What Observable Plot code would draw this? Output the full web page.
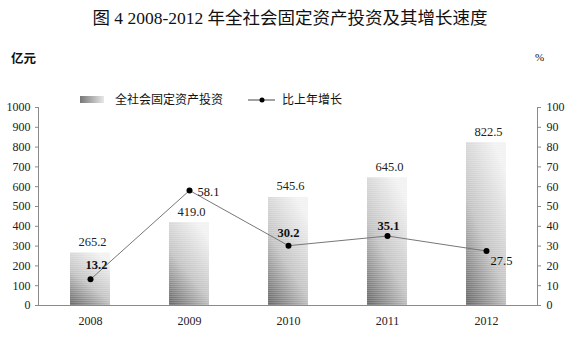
<!DOCTYPE html>
<html><head><meta charset="utf-8">
<script src="https://cdn.jsdelivr.net/npm/d3@7"></script>
<script src="https://cdn.jsdelivr.net/npm/@observablehq/plot@0.6"></script>
<style>body{margin:0;background:#fff}</style>
</head><body><div id="chart"></div>
<script>
const years = ["2008", "2009", "2010", "2011", "2012"];
const investment = [265.2, 419.0, 545.6, 645.0, 822.5];
const growth = [13.2, 58.1, 30.2, 35.1, 27.5];
const leftTicks = [0, 100, 200, 300, 400, 500, 600, 700, 800, 900, 1000];
const titleText = "图 4 2008-2012 年全社会固定资产投资及其增长速度";
const leftUnit = "亿元";
const rightUnit = "%";
const seriesNames = ["全社会固定资产投资", "比上年增长"];

// label placement styling (not data)
const growthLabelStyle = [
  {dx: 6, dy: -14, anchor: "middle", weight: "bold"},
  {dx: 8, dy: 2, anchor: "start", weight: "normal"},
  {dx: 0, dy: -13, anchor: "middle", weight: "bold"},
  {dx: 1, dy: -10, anchor: "middle", weight: "bold"},
  {dx: 15, dy: 10, anchor: "middle", weight: "normal"}
];

const rows = years.map((y, i) => ({year: y, inv: investment[i], g: growth[i], gy: growth[i] * 10}));
const FONT = "'Liberation Serif', 'DejaVu Serif', 'Noto Sans CJK SC', serif";
const GRAY = "#8a8a8a";

const growthLabels = rows.map((r, i) => Plot.text([r], {
  x: "year", y: "gy", text: d => d.g.toFixed(1),
  dx: growthLabelStyle[i].dx, dy: growthLabelStyle[i].dy,
  textAnchor: growthLabelStyle[i].anchor, fontSize: 12.5, fill: "#111", fontWeight: growthLabelStyle[i].weight
}));

const plot = Plot.plot({
  width: 577, height: 337,
  marginTop: 107, marginBottom: 32, marginLeft: 38, marginRight: 40,
  style: {fontFamily: FONT, fontSize: "12px", color: "#222", background: "#fff"},
  x: {domain: years, paddingInner: 0.6, paddingOuter: 0.3, label: null},
  y: {domain: [0, 1000], label: null},
  marks: [
    Plot.barY(rows, {x: "year", y: "inv", fill: "url(#barGrad)"}),
    Plot.barY(rows, {x: "year", y: "inv", fill: "url(#stripes)"}),
    Plot.text(rows, {x: "year", y: "inv", text: d => d.inv.toFixed(1), dy: -11, dx: 2, fontSize: 12.5, fill: "#222"}),
    Plot.line(rows, {x: "year", y: "gy", stroke: "#777", strokeWidth: 1}),
    Plot.dot(rows, {x: "year", y: "gy", r: 3, fill: "#000"}),
    ...growthLabels,
    Plot.axisY(leftTicks, {anchor: "left", tickSize: 3, tickPadding: 5, stroke: GRAY, tickFormat: d => String(d), fontSize: 12}),
    Plot.axisY(leftTicks, {anchor: "right", tickSize: 3, tickPadding: 6, stroke: GRAY, tickFormat: d => String(d / 10), fontSize: 12}),
    Plot.axisX({tickSize: 0, tickPadding: 11, fontSize: 12}),
    Plot.frame({anchor: "left", stroke: GRAY}),
    Plot.frame({anchor: "right", stroke: GRAY}),
    Plot.frame({anchor: "bottom", stroke: GRAY})
  ]
});

const svg = d3.select(plot);
const defs = svg.insert("defs", ":first-child");
const g1 = defs.append("linearGradient").attr("id", "barGrad")
  .attr("x1", 0.1).attr("y1", 1).attr("x2", 0.7).attr("y2", 0);
g1.append("stop").attr("offset", 0).attr("stop-color", "#6e6e6e");
g1.append("stop").attr("offset", 0.45).attr("stop-color", "#c4c4c4");
g1.append("stop").attr("offset", 1).attr("stop-color", "#f2f2f2");
const pat = defs.append("pattern").attr("id", "stripes").attr("patternUnits", "userSpaceOnUse")
  .attr("width", 4).attr("height", 2);
pat.append("rect").attr("x", 0).attr("y", 0).attr("width", 4).attr("height", 1).attr("fill", "#fff").attr("fill-opacity", 0.18);
const g2 = defs.append("linearGradient").attr("id", "legGrad")
  .attr("x1", 0).attr("y1", 0).attr("x2", 1).attr("y2", 0);
g2.append("stop").attr("offset", 0).attr("stop-color", "#777");
g2.append("stop").attr("offset", 1).attr("stop-color", "#e8e8e8");

const ann = svg.append("g").attr("font-family", "'Noto Sans CJK SC', 'Liberation Serif', serif")
  .attr("fill", "#111").attr("text-anchor", "start");
ann.append("text").attr("x", 290).attr("y", 24).attr("text-anchor", "middle")
  .attr("font-size", 17.5).attr("font-family", "'Liberation Serif', 'Noto Sans CJK SC', serif").text(titleText);
ann.append("text").attr("x", 11).attr("y", 63).attr("font-size", 12.5).attr("font-weight", "bold").text(leftUnit);
ann.append("text").attr("x", 535).attr("y", 61).attr("font-size", 11).attr("font-family", FONT).text(rightUnit);
// legend
ann.append("rect").attr("x", 80).attr("y", 96).attr("width", 24).attr("height", 7).attr("fill", "url(#legGrad)");
ann.append("text").attr("x", 115).attr("y", 104).attr("font-size", 12).text(seriesNames[0]);
ann.append("line").attr("x1", 248).attr("x2", 275).attr("y1", 100).attr("y2", 100).attr("stroke", "#444");
ann.append("circle").attr("cx", 262).attr("cy", 100).attr("r", 2.5).attr("fill", "#000");
ann.append("text").attr("x", 282).attr("y", 104).attr("font-size", 12).text(seriesNames[1]);

document.getElementById("chart").appendChild(plot);
</script>
</body></html>
